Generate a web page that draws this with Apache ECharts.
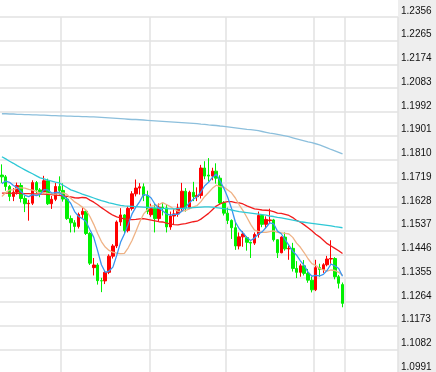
<!DOCTYPE html>
<html><head><meta charset="utf-8">
<script src="https://cdn.jsdelivr.net/npm/echarts@6/dist/echarts.min.js"></script>
<style>html,body{margin:0;padding:0;background:#fff}#c{width:436px;height:372px}</style>
</head><body><div id="c"></div>
<script>
const dates = [
'2018-07-10','2018-07-11','2018-07-12','2018-07-13','2018-07-16','2018-07-17','2018-07-18','2018-07-19','2018-07-20','2018-07-23','2018-07-24','2018-07-25','2018-07-26','2018-07-27','2018-07-30','2018-07-31',
'2018-08-01','2018-08-02','2018-08-03','2018-08-06','2018-08-07','2018-08-08','2018-08-09','2018-08-10','2018-08-13','2018-08-14','2018-08-15','2018-08-16','2018-08-17','2018-08-20','2018-08-21','2018-08-22','2018-08-23','2018-08-24','2018-08-27','2018-08-28','2018-08-29','2018-08-30','2018-08-31',
'2018-09-03','2018-09-04','2018-09-05','2018-09-06','2018-09-07','2018-09-10','2018-09-11','2018-09-12','2018-09-13','2018-09-14','2018-09-17','2018-09-18','2018-09-19','2018-09-20','2018-09-21','2018-09-24','2018-09-25','2018-09-26','2018-09-27','2018-09-28',
'2018-10-01','2018-10-02','2018-10-03','2018-10-04','2018-10-05','2018-10-08','2018-10-09','2018-10-10','2018-10-11','2018-10-12','2018-10-15','2018-10-16','2018-10-17','2018-10-18','2018-10-19','2018-10-22','2018-10-23','2018-10-24','2018-10-25','2018-10-26','2018-10-29','2018-10-30','2018-10-31',
'2018-11-01','2018-11-02','2018-11-05','2018-11-06','2018-11-07','2018-11-08','2018-11-09','2018-11-12'];

const opens = [1.1750,1.1743,1.1706,1.1668,1.1684,1.1710,1.1660,1.1640,1.1642,1.1721,1.1693,1.1685,1.1728,1.1640,1.1657,1.1706,
1.1691,1.1658,1.1583,1.1567,1.1553,1.1599,1.1611,1.1526,1.1395,1.1405,1.1345,1.1344,1.1377,1.1439,1.1478,1.1570,1.1597,1.1537,1.1622,1.1678,1.1700,1.1705,1.1672,
1.1598,1.1622,1.1583,1.1627,1.1624,1.1551,1.1593,1.1601,1.1624,1.1688,1.1624,1.1684,1.1667,1.1672,1.1777,1.1750,1.1746,1.1765,1.1738,1.1643,
1.1604,1.1576,1.1548,1.1478,1.1513,1.1510,1.1492,1.1489,1.1522,1.1595,1.1561,1.1575,1.1578,1.1502,1.1452,1.1512,1.1467,1.1469,1.1392,1.1377,1.1402,1.1373,1.1347,
1.1310,1.1395,1.1388,1.1406,1.1428,1.1430,1.1360,1.1330];
const closes = [1.1743,1.1706,1.1668,1.1684,1.1710,1.1660,1.1640,1.1642,1.1721,1.1693,1.1685,1.1728,1.1640,1.1657,1.1706,1.1691,
1.1658,1.1583,1.1567,1.1553,1.1599,1.1611,1.1526,1.1412,1.1405,1.1345,1.1344,1.1377,1.1439,1.1478,1.1570,1.1597,1.1537,1.1622,1.1678,1.1700,1.1705,1.1672,1.1610,
1.1622,1.1583,1.1627,1.1624,1.1551,1.1593,1.1601,1.1624,1.1688,1.1624,1.1684,1.1667,1.1672,1.1777,1.1746,1.1746,1.1765,1.1738,1.1643,1.1604,
1.1576,1.1548,1.1478,1.1513,1.1524,1.1492,1.1489,1.1522,1.1595,1.1561,1.1580,1.1578,1.1502,1.1452,1.1512,1.1467,1.1469,1.1392,1.1377,1.1402,1.1373,1.1347,1.1310,
1.1395,1.1388,1.1406,1.1428,1.1430,1.1360,1.1335,1.1258];
const lows = [1.1720,1.1690,1.1650,1.1650,1.1675,1.1645,1.1608,1.1575,1.1635,1.1680,1.1665,1.1680,1.1635,1.1620,1.1650,1.1675,
1.1648,1.1578,1.1530,1.1530,1.1545,1.1585,1.1520,1.1405,1.1365,1.1330,1.1301,1.1332,1.1370,1.1430,1.1470,1.1555,1.1525,1.1530,1.1614,1.1668,1.1675,1.1650,1.1600,
1.1590,1.1530,1.1570,1.1595,1.1530,1.1540,1.1560,1.1590,1.1610,1.1610,1.1620,1.1650,1.1650,1.1660,1.1734,1.1725,1.1730,1.1717,1.1637,1.1595,
1.1562,1.1505,1.1463,1.1465,1.1475,1.1460,1.1432,1.1482,1.1510,1.1550,1.1545,1.1565,1.1495,1.1432,1.1450,1.1460,1.1425,1.1380,1.1355,1.1360,1.1365,1.1337,1.1300,
1.1305,1.1360,1.1375,1.1400,1.1410,1.1350,1.1315,1.1243];
const highs = [1.1791,1.1750,1.1712,1.1700,1.1721,1.1720,1.1670,1.1655,1.1730,1.1727,1.1700,1.1747,1.1736,1.1670,1.1720,1.1745,
1.1718,1.1668,1.1595,1.1577,1.1606,1.1626,1.1614,1.1531,1.1432,1.1412,1.1356,1.1385,1.1446,1.1485,1.1576,1.1623,1.1600,1.1630,1.1688,1.1733,1.1719,1.1718,1.1690,
1.1640,1.1640,1.1641,1.1642,1.1637,1.1610,1.1620,1.1640,1.1720,1.1700,1.1690,1.1724,1.1703,1.1789,1.1803,1.1815,1.1778,1.1795,1.1749,1.1650,
1.1625,1.1580,1.1569,1.1530,1.1535,1.1515,1.1495,1.1530,1.1610,1.1600,1.1592,1.1621,1.1582,1.1504,1.1515,1.1530,1.1480,1.1490,1.1420,1.1410,1.1424,1.1390,1.1360,
1.1425,1.1410,1.1412,1.1440,1.1500,1.1435,1.1367,1.1338];

const ma5 = [1.1717,1.1727,1.1722,1.1710,1.1702,1.1686,1.1672,1.1667,1.1675,1.1671,
1.1676,1.1694,1.1693,1.1681,1.1683,1.1684,1.1670,1.1659,1.1641,1.1610,
1.1592,1.1583,1.1571,1.1540,1.1511,1.1460,1.1406,1.1377,1.1382,1.1397,
1.1442,1.1492,1.1524,1.1561,1.1601,1.1627,1.1648,1.1675,1.1673,1.1662,
1.1638,1.1623,1.1613,1.1601,1.1596,1.1599,1.1599,1.1611,1.1626,1.1644,
1.1657,1.1667,1.1685,1.1709,1.1722,1.1741,1.1754,1.1728,1.1699,1.1665,
1.1622,1.1570,1.1544,1.1528,1.1511,1.1499,1.1508,1.1524,1.1532,1.1549,
1.1567,1.1563,1.1535,1.1525,1.1502,1.1480,1.1458,1.1443,1.1421,1.1403,
1.1378,1.1362,1.1365,1.1363,1.1369,1.1385,1.1409,1.1402,1.1392,1.1362];
const ma10 = [1.1668,1.1683,1.1693,1.1693,1.1701,1.1701,1.1700,1.1695,1.1692,1.1687,
1.1681,1.1683,1.1680,1.1678,1.1677,1.1680,1.1682,1.1676,1.1661,1.1647,
1.1638,1.1627,1.1615,1.1591,1.1561,1.1526,1.1495,1.1474,1.1461,1.1454,
1.1451,1.1449,1.1450,1.1471,1.1499,1.1534,1.1570,1.1600,1.1617,1.1631,
1.1633,1.1636,1.1644,1.1637,1.1629,1.1619,1.1611,1.1612,1.1614,1.1620,
1.1628,1.1633,1.1648,1.1668,1.1683,1.1699,1.1711,1.1706,1.1704,1.1693,
1.1682,1.1662,1.1636,1.1614,1.1588,1.1561,1.1539,1.1534,1.1530,1.1530,
1.1533,1.1536,1.1530,1.1528,1.1526,1.1524,1.1511,1.1489,1.1473,1.1452,
1.1429,1.1410,1.1404,1.1392,1.1386,1.1382,1.1386,1.1384,1.1377,1.1366];
const ma30 = [1.1681,1.1681,1.1681,1.1680,1.1680,1.1680,1.1679,1.1679,1.1678,1.1678,
1.1677,1.1677,1.1676,1.1675,1.1673,1.1672,1.1670,1.1668,1.1666,1.1663,
1.1662,1.1664,1.1663,1.1654,1.1646,1.1636,1.1625,1.1615,1.1605,1.1596,
1.1590,1.1586,1.1582,1.1580,1.1579,1.1580,1.1582,1.1583,1.1580,1.1577,
1.1574,1.1571,1.1570,1.1566,1.1563,1.1560,1.1559,1.1562,1.1564,1.1568,
1.1571,1.1573,1.1581,1.1592,1.1603,1.1617,1.1631,1.1639,1.1645,1.1648,
1.1648,1.1644,1.1643,1.1639,1.1632,1.1626,1.1620,1.1618,1.1616,1.1615,
1.1614,1.1610,1.1604,1.1603,1.1599,1.1595,1.1587,1.1576,1.1569,1.1559,
1.1548,1.1536,1.1523,1.1513,1.1500,1.1487,1.1478,1.1469,1.1460,1.1449];
const ma60 = [1.1820,1.1812,1.1803,1.1795,1.1786,1.1778,1.1770,1.1762,1.1755,1.1747,
1.1739,1.1735,1.1731,1.1727,1.1723,1.1720,1.1711,1.1702,1.1693,1.1688,
1.1683,1.1677,1.1672,1.1667,1.1662,1.1657,1.1652,1.1648,1.1643,1.1640,
1.1637,1.1634,1.1632,1.1631,1.1630,1.1629,1.1628,1.1627,1.1626,1.1625,
1.1624,1.1623,1.1622,1.1621,1.1620,1.1620,1.1621,1.1622,1.1623,1.1624,
1.1625,1.1626,1.1627,1.1628,1.1628,1.1627,1.1625,1.1623,1.1621,1.1619,
1.1616,1.1613,1.1610,1.1608,1.1606,1.1604,1.1602,1.1600,1.1598,1.1596,
1.1593,1.1591,1.1588,1.1586,1.1583,1.1580,1.1577,1.1574,1.1571,1.1569,
1.1567,1.1565,1.1563,1.1561,1.1559,1.1557,1.1555,1.1552,1.1550,1.1548];
const ma200 = [1.1985,1.1985,1.1984,1.1984,1.1983,1.1983,1.1982,1.1982,1.1981,1.1981,
1.1980,1.1980,1.1979,1.1978,1.1978,1.1977,1.1977,1.1976,1.1976,1.1975,
1.1975,1.1974,1.1974,1.1973,1.1973,1.1972,1.1971,1.1970,1.1969,1.1968,
1.1967,1.1966,1.1965,1.1964,1.1963,1.1963,1.1962,1.1961,1.1960,1.1959,
1.1958,1.1957,1.1956,1.1955,1.1954,1.1953,1.1952,1.1951,1.1950,1.1949,
1.1948,1.1947,1.1945,1.1944,1.1942,1.1941,1.1940,1.1938,1.1937,1.1935,
1.1933,1.1931,1.1929,1.1927,1.1925,1.1924,1.1922,1.1920,1.1917,1.1914,
1.1911,1.1909,1.1906,1.1903,1.1900,1.1897,1.1893,1.1889,1.1885,1.1881,
1.1877,1.1874,1.1870,1.1866,1.1860,1.1854,1.1848,1.1843,1.1837,1.1831];

const yMin = 1.0991, yMax = 1.2356, yStep = 0.0091;
const padSlots = 14;

const cats = dates.slice();
for (let i = 0; i < padSlots; i++) cats.push('pad' + i);
const candles = dates.map((d, i) => [opens[i], closes[i], lows[i], highs[i]]);

function isMonthStart(i) {
  if (i === dates.length) return true;
  if (i <= 0 || i > dates.length) return false;
  return dates[i].slice(5, 7) !== dates[i - 1].slice(5, 7);
}

const chart = echarts.init(document.getElementById('c'), null, {renderer: 'canvas'});
const lineS = (name, data, color, w) => ({
  name, type: 'line', data, showSymbol: false, symbol: 'none', smooth: false,
  lineStyle: {color, width: w}, itemStyle: {color}, silent: true, z: 3
});
chart.setOption({
  animation: false,
  backgroundColor: '#ffffff',
  graphic: {elements: [{type: 'rect', z: -10, silent: true,
    shape: {x: 398, y: 0, width: 38, height: 372}, style: {fill: '#eeeeee'}}]},
  grid: {left: 0, right: 38, top: 17, bottom: -1, containLabel: false, outerBoundsMode: 'none'},
  xAxis: {
    type: 'category', data: cats, boundaryGap: true,
    axisLine: {show: false}, axisTick: {show: false}, axisLabel: {show: false},
    splitLine: {show: true, interval: (idx) => isMonthStart(idx), lineStyle: {color: '#e2e2e2', width: 1.5}}
  },
  yAxis: {
    type: 'value', position: 'right', min: yMin, max: yMax, interval: yStep, scale: true,
    axisLine: {show: false}, axisTick: {show: false},
    axisLabel: {show: true, margin: 3, color: '#111', fontSize: 10, fontFamily: 'Liberation Sans, Arial, sans-serif',
      verticalAlign: 'bottom', align: 'left', formatter: v => v.toFixed(4), padding: [0, 0, 1, 0]},
    splitLine: {show: true, lineStyle: {color: '#e2e2e2', width: 1.5}}
  },
  series: [
    {type: 'candlestick', data: candles, barWidth: 3, silent: true, z: 2,
      itemStyle: {color: '#ff0000', color0: '#00f000', borderColor: '#ff0000', borderColor0: '#00f000', borderWidth: 1}},
    lineS('MA30', ma30, '#f21c1c', 1.3),
    lineS('MA10', ma10, '#efb285', 1.3),
    lineS('MA5', ma5, '#3894f0', 1.3),
    lineS('MA60', ma60, '#2ec8d6', 1.3),
    lineS('MA200', ma200, '#8cbfdc', 1.3)
  ]
});
</script></body></html>
